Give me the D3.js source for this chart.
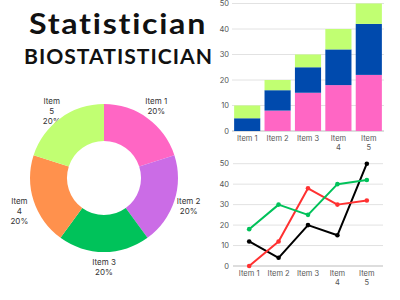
<!DOCTYPE html>
<html>
<head>
<meta charset="utf-8">
<script src="https://cdn.jsdelivr.net/npm/d3@7"></script>
<style>
  body { margin: 0; background: #fff; }
  svg { display: block; font-family: Inter, "Open Sans", sans-serif; }
</style>
</head>
<body>
<svg id="chart" width="400" height="300"></svg>
<script>
// donut
var pieItems = ["Item 1", "Item 2", "Item 3", "Item 4", "Item 5"];
var pieValues = [20, 20, 20, 20, 20];
var pieLines = [["Item 1", "20%"], ["Item 2", "20%"], ["Item 3", "20%"], ["Item", "4", "20%"], ["Item", "5", "20%"]];
var pieColors = ["#ff66c4", "#cb6ce6", "#00c25a", "#ff914d", "#c1ff72"];

// stacked bars
var barItems = ["Item 1", "Item 2", "Item 3", "Item 4", "Item 5"];
var barLabels = [["Item 1"], ["Item 2"], ["Item 3"], ["Item", "4"], ["Item", "5"]];
var barPink = [0, 8, 15, 18, 22];
var barBlue = [5, 8, 10, 14, 20];
var barGreen = [5, 4, 5, 8, 8];
var barColors = ["#ff66c4", "#004aad", "#c1ff72"];

// lines
var lineItems = ["Item 1", "Item 2", "Item 3", "Item 4", "Item 5"];
var lineBlack = [12, 4, 20, 15, 50];
var lineRed = [0, 12, 38, 30, 32];
var lineGreen = [18, 30, 25, 40, 42];
var lineColors = ["#000000", "#ff3131", "#00c25a"];

var yTicks = [0, 10, 20, 30, 40, 50];

var svg = d3.select("#chart");

// titles
svg.append("text")
  .attr("x", 29).attr("y", 34)
  .attr("textLength", 178).attr("lengthAdjust", "spacingAndGlyphs")
  .style("font-family", "Lato, sans-serif").style("font-weight", 700)
  .style("font-size", "28px").style("letter-spacing", "1.5px").attr("fill", "#111")
  .text("Statistician");
svg.append("text")
  .attr("x", 24).attr("y", 64)
  .attr("textLength", 189).attr("lengthAdjust", "spacingAndGlyphs")
  .style("font-family", "Lato, sans-serif").style("font-weight", 700)
  .style("font-size", "21px").style("letter-spacing", "1px").attr("fill", "#111")
  .text("BIOSTATISTICIAN");

// ---- donut
var cx = 104, cy = 178;
var pie = d3.pie().sort(null);
var arcs = pie(pieValues);
var arc = d3.arc().innerRadius(37).outerRadius(74);
var labelArc = d3.arc().innerRadius(89).outerRadius(89);

var donut = svg.append("g").attr("transform", "translate(" + cx + "," + cy + ")");

// labels go under the slices, first line sits on the label radius
donut.selectAll("text.plabel")
  .data(arcs)
  .enter().append("text")
  .attr("class", "plabel")
  .attr("text-anchor", "middle")
  .attr("fill", "#333")
  .style("font-size", "8px")
  .each(function(d, i) {
    var c = labelArc.centroid(d);
    var t = d3.select(this);
    pieLines[i].forEach(function(l, j) {
      t.append("tspan").attr("x", c[0]).attr("y", c[1] - 2 + j * 10).text(l);
    });
  });

donut.selectAll("path")
  .data(arcs)
  .enter().append("path")
  .attr("d", arc)
  .attr("fill", function(d, i) { return pieColors[i]; });

// ---- stacked bars
var bx = d3.scaleBand().domain(barItems).range([232, 384]).paddingInner(0.14).paddingOuter(0.07);
var by = d3.scaleLinear().domain([0, 50]).range([131, 3.5]);

var barG = svg.append("g");
barG.selectAll("line.grid")
  .data(yTicks)
  .enter().append("line")
  .attr("x1", 232).attr("x2", 384)
  .attr("y1", function(d) { return by(d); }).attr("y2", function(d) { return by(d); })
  .attr("stroke", function(d) { return d === 0 ? "#bbb" : "#e2e2e2"; })
  .attr("stroke-width", 1);
barG.selectAll("text.ytick")
  .data(yTicks)
  .enter().append("text")
  .attr("x", 229).attr("y", function(d) { return by(d) + 2.5; })
  .attr("text-anchor", "end").attr("fill", "#555").style("font-size", "7.5px")
  .text(function(d) { return d; });

var stackRows = barItems.map(function(k, i) {
  return { item: k, pink: barPink[i], blue: barBlue[i], green: barGreen[i] };
});
var stack = d3.stack().keys(["pink", "blue", "green"])(stackRows);

barG.selectAll("g.layer")
  .data(stack)
  .enter().append("g")
  .attr("fill", function(d, i) { return barColors[i]; })
  .selectAll("rect")
  .data(function(d) { return d; })
  .enter().append("rect")
  .attr("x", function(d) { return bx(d.data.item); })
  .attr("width", bx.bandwidth())
  .attr("y", function(d) { return by(d[1]); })
  .attr("height", function(d) { return by(d[0]) - by(d[1]); });

barG.selectAll("text.xtick")
  .data(barItems)
  .enter().append("text")
  .attr("text-anchor", "middle").attr("fill", "#555").style("font-size", "7.5px")
  .each(function(d, i) {
    var t = d3.select(this);
    var x = bx(d) + bx.bandwidth() / 2;
    barLabels[i].forEach(function(l, j) {
      t.append("tspan").attr("x", x).attr("y", 141 + j * 8.7).text(l);
    });
  });

// ---- lines
var lx = d3.scalePoint().domain(lineItems).range([233, 383]).padding(0.55);
var ly = d3.scaleLinear().domain([0, 50]).range([266, 163.7]);

var lineG = svg.append("g");
lineG.selectAll("line.grid")
  .data(yTicks)
  .enter().append("line")
  .attr("x1", 233).attr("x2", 383)
  .attr("y1", function(d) { return ly(d); }).attr("y2", function(d) { return ly(d); })
  .attr("stroke", function(d) { return d === 0 ? "#bbb" : "#e2e2e2"; })
  .attr("stroke-width", 1);
lineG.selectAll("text.ytick")
  .data(yTicks)
  .enter().append("text")
  .attr("x", 229).attr("y", function(d) { return ly(d) + 2.5; })
  .attr("text-anchor", "end").attr("fill", "#555").style("font-size", "7.5px")
  .text(function(d) { return d; });

lineG.selectAll("text.xtick")
  .data(lineItems)
  .enter().append("text")
  .attr("text-anchor", "middle").attr("fill", "#555").style("font-size", "7.5px")
  .each(function(d, i) {
    var t = d3.select(this);
    barLabels[i].forEach(function(l, j) {
      t.append("tspan").attr("x", lx(d)).attr("y", 275.5 + j * 9).text(l);
    });
  });

var series = [lineBlack, lineRed, lineGreen];
var line = d3.line()
  .x(function(d, i) { return lx(lineItems[i]); })
  .y(function(d) { return ly(d); });

series.forEach(function(s, k) {
  lineG.append("path")
    .attr("d", line(s))
    .attr("fill", "none")
    .attr("stroke", lineColors[k])
    .attr("stroke-width", 2)
    .attr("stroke-linejoin", "round");
  lineG.selectAll("circle.s" + k)
    .data(s)
    .enter().append("circle")
    .attr("class", "s" + k)
    .attr("cx", function(d, i) { return lx(lineItems[i]); })
    .attr("cy", function(d) { return ly(d); })
    .attr("r", 2.3)
    .attr("fill", lineColors[k]);
});
</script>
</body>
</html>
